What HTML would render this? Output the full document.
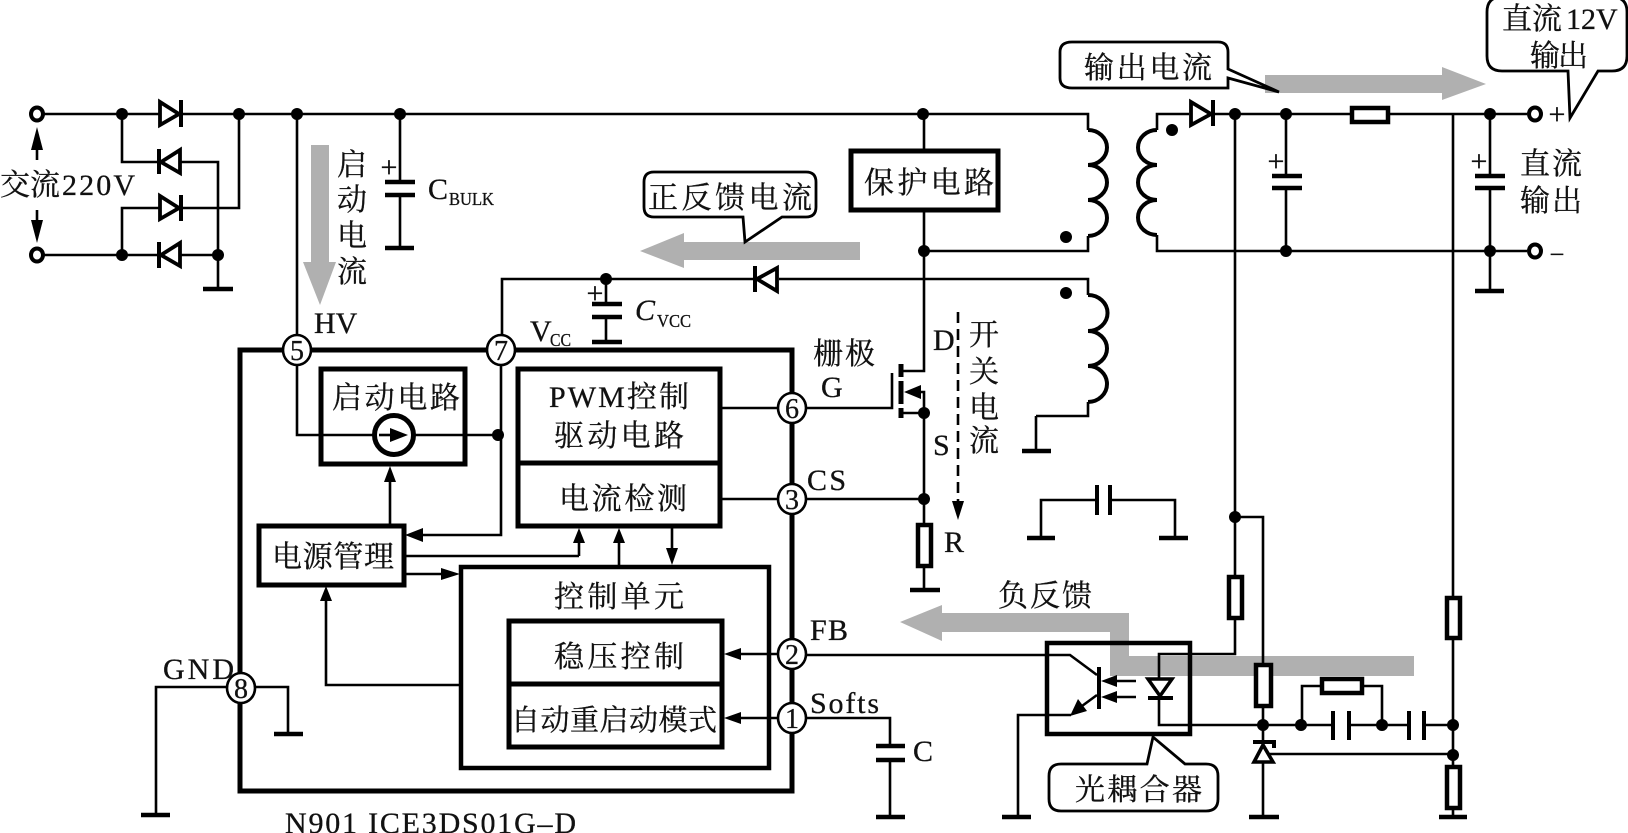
<!DOCTYPE html>
<html><head><meta charset="utf-8">
<style>
html,body{margin:0;padding:0;background:#fff;width:1628px;height:833px;overflow:hidden}
svg{display:block}
text{font-family:"Liberation Serif","Noto Serif CJK SC",serif;fill:#111;stroke:#111;stroke-width:.3}
.w{fill:none;stroke:#000;stroke-width:2.6}
.k{fill:none;stroke:#000;stroke-width:4.6}
.g{fill:#b0b0b0;stroke:none}
.a{fill:#000;stroke:none}
.box{fill:none;stroke:#000;stroke-width:5}
.res{fill:#fff;stroke:#000;stroke-width:4.5}
.c{fill:#fff;stroke:#000;stroke-width:3}
.cal{fill:#fff;stroke:#000;stroke-width:2.8}
.p{fill:#fff;stroke:#000;stroke-width:2.6}
.t{fill:#fff;stroke:#000;stroke-width:3.8}
</style></head><body>
<svg width="1628" height="833" viewBox="0 0 1628 833" xmlns="http://www.w3.org/2000/svg">
<!-- gray arrows -->
<polygon class="g" points="311,145 329,145 329,262 336,262 320,305 303,262 311,262"/>
<polygon class="g" points="860,242 684,242 684,233 640,251 684,268 684,260 860,260"/>
<polygon class="g" points="1265,75 1442,75 1442,67 1486,84 1442,100 1442,93 1265,93"/>
<polygon class="g" points="900,622 942,605 942,613 1129,613 1129,656 1414,656 1414,676 1110,676 1110,632 942,632 942,641"/>

<!-- wires -->
<path class="w" d="M44,114H1088V130M122,114V162H159M181,162H218V255M122,255V208H159M181,208H239V114M44,255H159M181,255H218V289"/>
<path class="w" d="M297,114V435H374M414,435H498M400,114V182M400,195V248"/>
<path class="w" d="M37,160V145M37,210V228"/>
<path class="w" d="M924,114V151M924,210V371H901M924,251H1088V236"/>
<path class="w" d="M502,350V279H754M779,279H1088V295M1088,402V416H1036"/>
<path class="w" d="M1036,416V451"/>
<path class="w" d="M606,279V304M606,317V342"/>
<path class="w" d="M501,364V535H420"/>
<path class="w" d="M390,525V480M579,556H404M579,556V540M619,567V540M672,526V552M404,574H445"/>
<path class="w" d="M461,685H326V598"/>
<path class="w" d="M720,408H778M806,408H892V373M720,499H778M806,499H924M924,413V524M924,566V590"/>
<path class="w" d="M778,654H735M806,655H1070L1097,675M778,718H735M806,718H890V746M890,760V817"/>
<path class="w" d="M255,687H288V734M227,687H156V815"/>
<path class="w" d="M1157,130V114H1189M1213,114H1527M1157,235V251H1527"/>
<path class="w" d="M1286,114V176M1286,188V251M1490,114V176M1490,188V291M1235,114V576M1235,619V654H1159V678M1159,698V725H1333M1349,725H1409M1424,725H1453"/>
<path class="w" d="M1235,517H1263V664M1263,706V743M1263,763V817M1453,114V597M1453,639V766M1453,808V817"/>
<path class="w" d="M1302,725V686H1320M1362,686H1382V725M1268,754H1453"/>
<path class="w" d="M1041,538V500H1097M1110,500H1175V538"/>
<path class="w" d="M1071,715H1018V817"/>
<path class="w" stroke-dasharray="11 6" d="M958,312V505"/>

<!-- arrowheads -->
<g class="a">
<polygon points="37,127 31,150 43,150"/>
<polygon points="37,243 31,220 43,220"/>
<polygon points="958,520 952,501 964,501"/>
<polygon points="390,466 384,482 396,482"/>
<polygon points="405,535 423,528 423,542"/>
<polygon points="579,528 573,543 585,543"/>
<polygon points="619,528 613,543 625,543"/>
<polygon points="672,565 666,548 678,548"/>
<polygon points="460,574 441,568 441,580"/>
<polygon points="326,586 320,601 332,601"/>
<polygon points="724,654 741,648 741,660"/>
<polygon points="724,718 741,712 741,724"/>
</g>

<!-- thick bars -->
<path class="k" d="M203,289H233M385,182H415M385,195H415M385,248H414M592,304H622M592,317H622M592,342H622"/>
<path class="k" d="M1272,176H1302M1272,188H1302M1475,176H1505M1475,188H1505M1475,291H1504"/>
<path class="k" d="M1022,451H1051M1027,538H1055M1159,538H1188M910,590H940M876,746H905M876,760H905M876,817H905M1002,817H1031M1249,817H1279M1439,817H1467M274,734H303M141,815H170"/>
<path class="w" style="stroke-width:4" d="M1097,485V515M1110,485V515M1333,711V740M1349,711V740M1409,711V740M1424,711V740"/>

<!-- coils -->
<path class="k" style="stroke-width:4" d="M1088,130A19,17.5 0 0 1 1088,165A19,17.5 0 0 1 1088,200A19,18 0 0 1 1088,236"/>
<path class="k" style="stroke-width:4" d="M1088,295A19,17.5 0 0 1 1088,331A19,17.5 0 0 1 1088,366A19,18 0 0 1 1088,402"/>
<path class="k" style="stroke-width:4" d="M1157,130A19,17.5 0 0 0 1157,165A19,17.5 0 0 0 1157,200A19,17.5 0 0 0 1157,235"/>

<!-- diodes -->
<g class="t">
<polygon points="160,102 160,125 179,114"/>
<polygon points="180,150 180,173 161,162"/>
<polygon points="160,196 160,219 179,208"/>
<polygon points="180,243 180,266 161,255"/>
<polygon points="777,268 777,291 757,279"/>
<polygon points="1191,102 1191,125 1211,114"/>
</g>
<path class="k" style="stroke-width:4" d="M181,100V127M159,149V174M181,195V221M159,242V268M755,266V292M1213,100V126"/>

<!-- MOSFET -->
<path class="k" style="stroke-width:5" d="M901,364V377M901,381V404M901,408V418"/>
<path class="w" d="M901,413H924M921,392H924V413"/>
<polygon class="a" points="904,392 921,385 921,399"/>

<!-- boxes -->
<rect class="box" x="240" y="350" width="552" height="441"/>
<rect class="box" x="321" y="369" width="144" height="95"/>
<rect class="box" x="518" y="369" width="202" height="94"/>
<rect class="box" x="518" y="463" width="202" height="63"/>
<rect class="box" x="259" y="526" width="145" height="59"/>
<rect class="box" style="stroke-width:4.5" x="461" y="567" width="308" height="201"/>
<rect class="box" x="509" y="621" width="213" height="63"/>
<rect class="box" x="509" y="684" width="213" height="63"/>
<rect class="box" x="851" y="151" width="147" height="59"/>
<rect class="box" style="stroke-width:4.5" x="1047" y="643" width="143" height="91"/>

<!-- current source -->
<ellipse cx="394" cy="435" rx="19.5" ry="19.5" fill="#fff" stroke="#000" stroke-width="5"/>
<path class="w" d="M379,435H392"/>
<polygon class="a" points="408,435 390,428 390,442"/>

<!-- opto internals -->
<path class="k" style="stroke-width:4" d="M1099,667V709"/>
<path class="w" d="M1097,695L1082,706"/>
<polygon class="a" points="1070,716 1078,699 1087,711"/>
<path class="w" d="M1116,681H1136M1116,697H1136"/>
<polygon class="a" points="1101,681 1117,675 1117,687"/>
<polygon class="a" points="1101,697 1117,691 1117,703"/>
<polygon points="1148,679 1172,679 1160,696" fill="none" stroke="#000" stroke-width="3.5"/>
<path class="k" style="stroke-width:4" d="M1148,698H1173"/>

<!-- zener -->
<polygon points="1263,745 1254,762 1273,762" fill="#fff" stroke="#000" stroke-width="3.6"/>
<path class="k" style="stroke-width:4" d="M1253,742H1274V748"/>

<!-- resistors -->
<rect class="res" x="1352" y="108" width="36" height="14"/>
<rect class="res" x="918" y="525" width="13" height="41"/>
<rect class="res" x="1229" y="577" width="13" height="41"/>
<rect class="res" x="1447" y="598" width="13" height="40"/>
<rect class="res" x="1256" y="665" width="15" height="41"/>
<rect class="res" x="1322" y="679" width="40" height="14"/>
<rect class="res" x="1447" y="767" width="13" height="41"/>

<!-- terminals -->
<ellipse class="c" style="stroke-width:4" cx="37" cy="114" rx="6" ry="6.5"/>
<ellipse class="c" style="stroke-width:4" cx="37" cy="255" rx="6" ry="6.5"/>
<ellipse class="c" style="stroke-width:4" cx="1535" cy="114" rx="6" ry="6.5"/>
<ellipse class="c" style="stroke-width:4" cx="1535" cy="251" rx="6" ry="6.5"/>

<!-- dots -->
<g class="a">
<circle cx="122" cy="114" r="6"/><circle cx="239" cy="114" r="6"/><circle cx="297" cy="114" r="6"/><circle cx="400" cy="114" r="6"/>
<circle cx="923" cy="114" r="6"/><circle cx="122" cy="255" r="6"/><circle cx="218" cy="255" r="6"/>
<circle cx="606" cy="279" r="6"/><circle cx="924" cy="251" r="6"/><circle cx="498" cy="435" r="6"/>
<circle cx="924" cy="413" r="6"/><circle cx="924" cy="499" r="6"/>
<circle cx="1235" cy="114" r="6"/><circle cx="1286" cy="114" r="6"/><circle cx="1490" cy="114" r="6"/>
<circle cx="1286" cy="251" r="6"/><circle cx="1490" cy="251" r="6"/>
<circle cx="1235" cy="517" r="6"/><circle cx="1263" cy="725" r="6"/><circle cx="1301" cy="725" r="6"/><circle cx="1382" cy="725" r="6"/><circle cx="1453" cy="725" r="6"/><circle cx="1453" cy="755" r="6"/>
<circle cx="1066" cy="237" r="6"/><circle cx="1066" cy="293" r="6"/><circle cx="1172" cy="130" r="6"/>
</g>

<!-- pins -->
<g>
<ellipse class="p" cx="297" cy="350" rx="14" ry="15"/><ellipse class="p" cx="501" cy="350" rx="14" ry="15"/>
<ellipse class="p" cx="792" cy="408" rx="14" ry="15"/><ellipse class="p" cx="792" cy="499" rx="14" ry="15"/>
<ellipse class="p" cx="792" cy="654" rx="14" ry="15"/><ellipse class="p" cx="792" cy="718" rx="14" ry="15"/>
<ellipse class="p" cx="241" cy="688" rx="14" ry="15"/>
</g>
<g font-size="28" text-anchor="middle">
<text x="297" y="360">5</text><text x="501" y="360">7</text><text x="792" y="418">6</text><text x="792" y="509">3</text><text x="792" y="664">2</text><text x="792" y="728">1</text><text x="241" y="698">8</text>
</g>

<!-- callouts -->
<path class="cal" d="M654,172H806Q816,172 816,182V207Q816,217 806,217H782L745,242L743,217H654Q644,217 644,207V182Q644,172 654,172Z"/>
<path class="cal" d="M1072,42H1218Q1228,42 1228,52V69L1279,92L1228,78V88H1072Q1060,88 1060,78V52Q1060,42 1072,42Z"/>
<path class="cal" d="M1502,-3H1612Q1627,-3 1627,12V56Q1627,71 1612,71H1598L1570,118L1568,71H1502Q1487,71 1487,56V12Q1487,-3 1502,-3Z"/>
<path class="cal" d="M1061,764H1147L1153,737L1185,764H1206Q1218,764 1218,776V799Q1218,811 1206,811H1061Q1049,811 1049,799V776Q1049,764 1061,764Z"/>

<!-- CJK text -->
<g font-size="30">
<text x="0" y="195" textLength="60" lengthAdjust="spacing">交流</text>
<text x="62" y="195" textLength="73" lengthAdjust="spacing">220V</text>
<text x="352" y="175" text-anchor="middle">启</text><text x="352" y="210" text-anchor="middle">动</text><text x="352" y="246" text-anchor="middle">电</text><text x="352" y="282" text-anchor="middle">流</text>
<text x="984" y="345" text-anchor="middle">开</text><text x="984" y="382" text-anchor="middle">关</text><text x="984" y="418" text-anchor="middle">电</text><text x="984" y="451" text-anchor="middle">流</text>
<text x="648" y="208" textLength="164" lengthAdjust="spacing">正反馈电流</text>
<text x="1084" y="78" textLength="128" lengthAdjust="spacing">输出电流</text>
<text x="864" y="193" textLength="130" lengthAdjust="spacing">保护电路</text>
<text x="332" y="408" textLength="128" lengthAdjust="spacing">启动电路</text>
<text x="549" y="407" textLength="140" lengthAdjust="spacing">PWM控制</text>
<text x="554" y="446" textLength="130" lengthAdjust="spacing">驱动电路</text>
<text x="559" y="509" textLength="128" lengthAdjust="spacing">电流检测</text>
<text x="272" y="567" textLength="122" lengthAdjust="spacing">电源管理</text>
<text x="554" y="607" textLength="130" lengthAdjust="spacing">控制单元</text>
<text x="554" y="667" textLength="130" lengthAdjust="spacing">稳压控制</text>
<text x="511" y="730" textLength="206" lengthAdjust="spacing" font-size="29">自动重启动模式</text>
<text x="998" y="606" textLength="94" lengthAdjust="spacing">负反馈</text>
<text x="1075" y="800" textLength="127" lengthAdjust="spacing">光耦合器</text>
<text x="1520" y="174" textLength="62" lengthAdjust="spacing">直流</text>
<text x="1520" y="211" textLength="62" lengthAdjust="spacing">输出</text>
<text x="813" y="364" textLength="62" lengthAdjust="spacing">栅极</text>
<text x="1502" y="29" textLength="60" lengthAdjust="spacing">直流</text>
<text x="1566" y="29">12V</text>
<text x="1530" y="66" textLength="58" lengthAdjust="spacing">输出</text>
</g>

<!-- Latin labels -->
<g font-size="30">
<text x="314" y="333">HV</text>
<text x="428" y="199">C</text>
<text x="449" y="205" font-size="18" textLength="45" lengthAdjust="spacingAndGlyphs">BULK</text>
<text x="635" y="320" font-style="italic">C</text>
<text x="657" y="327" font-size="18" textLength="34" lengthAdjust="spacingAndGlyphs">VCC</text>
<text x="530" y="341">V</text>
<text x="550" y="346" font-size="18" textLength="21" lengthAdjust="spacingAndGlyphs">CC</text>
<text x="933" y="350">D</text>
<text x="933" y="455">S</text>
<text x="944" y="552">R</text>
<text x="821" y="397">G</text>
<text x="807" y="490" textLength="39" lengthAdjust="spacing">CS</text>
<text x="810" y="640" textLength="38" lengthAdjust="spacing">FB</text>
<text x="810" y="713" textLength="69" lengthAdjust="spacing">Softs</text>
<text x="913" y="761">C</text>
<text x="163" y="679" textLength="71" lengthAdjust="spacing">GND</text>
<text x="285" y="833" textLength="291" lengthAdjust="spacing">N901 ICE3DS01G–D</text>
</g>
<g font-size="30">
<text x="389" y="177" text-anchor="middle">+</text>
<text x="595" y="303" text-anchor="middle">+</text>
<text x="1276" y="171" text-anchor="middle">+</text>
<text x="1479" y="171" text-anchor="middle">+</text>
<text x="1557" y="124" text-anchor="middle">+</text>
<text x="1557" y="260" text-anchor="middle" font-size="24">–</text>
</g>
</svg>
</body></html>
